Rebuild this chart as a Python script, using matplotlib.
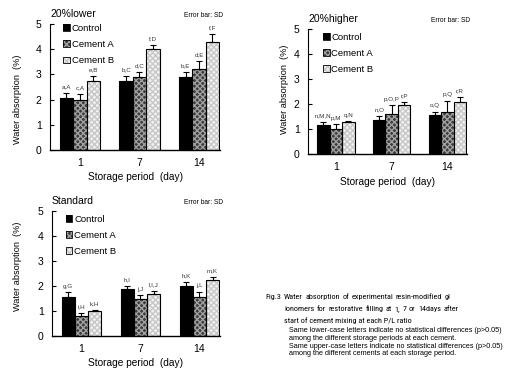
import numpy as np
import matplotlib
matplotlib.use("Agg")
import matplotlib.pyplot as plt
from matplotlib.patches import Patch
from matplotlib.font_manager import FontProperties, fontManager

plt.rcParams['font.family'] = ['Liberation Sans', 'DejaVu Sans']

days = ["1", "7", "14"]
series = ["Control", "Cement A", "Cement B"]

# 20% lower P/L
lower_mean = [[2.08, 2.72, 2.88], [1.99, 2.88, 3.22], [2.75, 4.02, 4.27]]
lower_sd = [[0.20, 0.23, 0.22], [0.25, 0.22, 0.33], [0.20, 0.15, 0.33]]
lower_lab = [["a,A", "b,C", "b,E"], ["c,A", "d,C", "d,E"], ["e,B", "f,D", "f,F"]]

# 20% higher P/L
higher_mean = [[1.17, 1.38, 1.58], [1.00, 1.62, 1.70], [1.27, 1.97, 2.10]]
higher_sd = [[0.10, 0.15, 0.12], [0.20, 0.33, 0.43], [0.05, 0.11, 0.18]]
higher_lab = [["n,M,N", "n,O", "o,Q"], ["p,M", "p,O,P", "p,Q"], ["q,N", "r,P", "r,R"]]

# standard P/L
std_mean = [[1.55, 1.90, 2.00], [0.82, 1.48, 1.57], [1.00, 1.70, 2.23]]
std_sd = [[0.20, 0.10, 0.15], [0.10, 0.15, 0.20], [0.05, 0.12, 0.12]]
std_lab = [["g,G", "h,I", "h,K"], ["i,H", "j,J", "j,L"], ["k,H", "l,I,J", "m,K"]]

face = ["black", "#3a3a3a", "#f2f2f2"]
hatch_col = ["black", "#a0a0a0", "#c8c8c8"]
hatches = [None, "xxxxxx", "xxxxxx"]

W, H = 505, 369
fig = plt.figure(figsize=(W / 100, H / 100), dpi=100)


def px_axes(x0, x1, ytop, ybot):
    return fig.add_axes([x0 / W, 1 - ybot / H, (x1 - x0) / W, (ybot - ytop) / H])


def draw_panel(ax, title, mean, sd, labels, ylab_x, ylab_y, leg_anchor):
    x = np.arange(len(days))
    bw = 0.224
    for i in range(3):
        xs = x + (i - 1) * bw
        ax.bar(xs, mean[i], bw, color=face[i], edgecolor=hatch_col[i],
               hatch=hatches[i], linewidth=0, zorder=2)
        ax.bar(xs, mean[i], bw, fill=False, edgecolor="black", linewidth=0.8, zorder=3)
        ax.errorbar(xs, mean[i], yerr=[np.zeros(3), sd[i]], fmt="none",
                    ecolor="black", elinewidth=0.8, capsize=2, capthick=0.8, zorder=4)
        for xx, m, s, t in zip(xs, mean[i], sd[i], labels[i]):
            ax.annotate(t, (xx, m + s), xytext=(0, 2.5), textcoords="offset points",
                        ha="center", va="bottom", fontsize=4.5, color="#333333")
    ax.set_xlim(-0.5, 2.35)
    ax.set_ylim(0, 5)
    ax.set_yticks(range(6))
    ax.set_xticks(x)
    ax.set_xticklabels(days)
    ax.tick_params(axis="x", length=0, pad=6, labelsize=7.5)
    ax.tick_params(axis="y", direction="in", length=3, width=0.8, pad=6, labelsize=7.5)
    for s in ["top", "right"]:
        ax.spines[s].set_visible(False)
    ax.spines["left"].set_linewidth(0.8)
    ax.spines["bottom"].set_linewidth(1.0)
    ax.set_ylabel("Water absorption  (%)", fontsize=6.6)
    ax.yaxis.set_label_coords(ylab_x, ylab_y)
    ax.set_xlabel("Storage period  (day)", fontsize=7.3, labelpad=3)
    ax.text(0.0, 1.08, title, transform=ax.transAxes, fontsize=7.5, va="center", ha="left")
    ax.text(1.02, 1.07, "Error bar: SD", transform=ax.transAxes, fontsize=4.8,
            va="center", ha="right")
    handles = []
    for i in range(3):
        fill = Patch(facecolor=face[i], edgecolor=hatch_col[i], hatch=hatches[i], linewidth=0)
        edge = Patch(fill=False, edgecolor="black", linewidth=0.6)
        handles.append((fill, edge))
    ax.legend(handles, series, loc="upper left", bbox_to_anchor=leg_anchor,
              frameon=False, fontsize=6.8, handlelength=0.7, handleheight=0.7,
              handletextpad=0.2, labelspacing=0.75, borderaxespad=0)


ax1 = px_axes(50, 220, 24, 150)
draw_panel(ax1, "20%lower", lower_mean, lower_sd, lower_lab, -0.165, 0.405, (0.055, 1.03))

ax2 = px_axes(308, 467, 29, 154)
draw_panel(ax2, "20%higher", higher_mean, higher_sd, higher_lab, -0.12, 0.52, (0.07, 1.0))

ax3 = px_axes(52, 220, 211, 336)
draw_panel(ax3, "Standard", std_mean, std_sd, std_lab, -0.179, 0.555, (0.06, 1.0))

# caption: the original uses a condensed face, pick one if installed
fig.canvas.draw()
renderer = fig.canvas.get_renderer()

names = {f.name for f in fontManager.ttflist}
cap_family = "Liberation Sans"
condensed = False
for cand in ["Liberation Sans Narrow", "Roboto Condensed", "Open Sans Condensed",
             "Arial Narrow", "Nimbus Sans Narrow"]:
    if cand in names:
        cap_family = cand
        condensed = True
        break


def width_px(s, size):
    fp = FontProperties(family=cap_family, size=size)
    w, h, d = renderer.get_text_width_height_descent(s, fp, ismath=False)
    return w


line3 = "start of cement mixing at each P/L ratio"
if condensed:
    cap_size = 1.2 * 8.0 * 107 / width_px(line3, 8.0)
else:
    cap_size = 5.6


def justified(words, x0, x1, y, size):
    widths = [width_px(w, size) for w in words]
    gap = (x1 - x0 - sum(widths)) / (len(words) - 1)
    gap = max(gap, 1.3 * width_px(" ", size))
    pos = x0
    for w, wd in zip(words, widths):
        fig.text(pos / W, 1 - y / H, w, fontsize=size, va="center", ha="left",
                 family=cap_family)
        pos += wd + gap


fig.text(265 / W, 1 - 297 / H, "Fig.3", fontsize=cap_size, va="center", family=cap_family)
justified("Water absorption of experimental resin-modified gl".split(), 284, 417, 297, cap_size)
justified("ionomers for restorative filling at 1, 7 or 14days after".split(), 284, 416, 309,
          cap_size)
fig.text(284 / W, 1 - 321 / H, line3, fontsize=cap_size, va="center", family=cap_family)

notes = [
    "Same lower-case letters indicate no statistical differences (p>0.05)",
    "among the different storage periods at each cement.",
    "Same upper-case letters indicate no statistical differences (p>0.05)",
    "among the different cements at each storage period.",
]
for k, line in enumerate(notes):
    fig.text(289 / W, 1 - (331 + 7.5 * k) / H, line, fontsize=5.2, va="center",
             family="Liberation Sans")

fig.savefig("out.png", dpi=100)
